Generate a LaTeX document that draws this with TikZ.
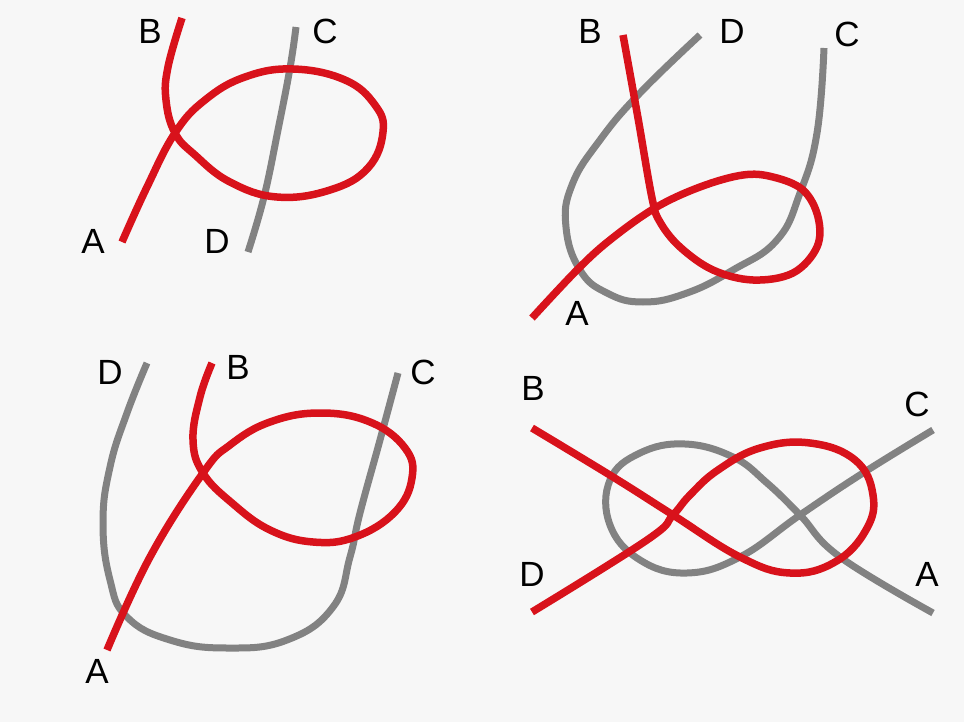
\documentclass[tikz,border=0pt]{standalone}
\usepackage{fontspec}
\setmainfont{Liberation Sans}
\definecolor{ropered}{HTML}{D8121B}
\definecolor{ropegray}{HTML}{828282}
\definecolor{paper}{HTML}{F7F7F7}
\tikzset{
	redrope/.style={draw=ropered,line width=7.5pt,line cap=butt,line join=round},
	grayrope/.style={draw=ropegray,line width=7pt,line cap=butt,line join=round},
	endlabel/.style={font=\fontsize{35}{40}\selectfont,inner sep=0pt}
}
\begin{document}
\begin{tikzpicture}[x=1pt,y=-1pt]
	\fill[paper] (0,0) rectangle (964,722);
	\useasboundingbox (0,0) rectangle (964,722);
	% top left
	\draw[grayrope] plot[smooth,tension=0.7] coordinates {(296,27) (290,68) (278,130) (264,197) (248,252)};
	\draw[redrope] plot[smooth,tension=0.7] coordinates {(122,242) (147,187) (175,133) (205,100) (245,77) (293,69) (345,80) (375,105) (383,132) (368,168) (330,190) (277,197) (230,182) (195,155) (175,133) (166,100) (168,67) (182,18)};
	\node[endlabel] (tlB) at (150,31) {B};
	\node[endlabel] (tlC) at (325,31) {C};
	\node[endlabel] (tlA) at (93,241) {A};
	\node[endlabel] (tlD) at (217,241) {D};
	% top right
	\draw[grayrope] plot[smooth,tension=0.75] coordinates {(700,35) (640,93) (600,140) (572,185) (566,227) (580,270) (607,293) (643,302) (687,293) (733,270) (777,240) (800,193) (817,133) (824,48)};
	\draw[redrope] plot[smooth,tension=0.6] coordinates {(623,35) (638,118) (652,198) (660,222) (680,247) (713,270) (753,280) (793,273) (817,247) (818,217) (803,190) (773,177) (743,175) (700,187) (655,208) (610,240) (577,270) (532,318)};
	\node[endlabel] (trB) at (590,31) {B};
	\node[endlabel] (trD) at (732,31) {D};
	\node[endlabel] (trC) at (847,34) {C};
	\node[endlabel] (trA) at (577,313) {A};
	% bottom left
	\draw[grayrope] plot[smooth,tension=0.75] coordinates {(147,363) (127,413) (110,467) (103,523) (110,580) (127,617) (170,640) (227,648) (287,640) (333,607) (350,557) (360,513) (380,440) (398,373)};
	\draw[redrope] plot[smooth,tension=0.7] coordinates {(107,650) (150,557) (203,473) (230,445) (270,422) (320,413) (370,422) (405,448) (412,478) (395,512) (355,537) (313,542) (270,530) (232,503) (203,473) (193,440) (200,397) (212,363)};
	\node[endlabel] (blD) at (110,372) {D};
	\node[endlabel] (blB) at (238,367) {B};
	\node[endlabel] (blC) at (423,372) {C};
	\node[endlabel] (blA) at (97,671) {A};
	% bottom right
	\draw[grayrope] plot[smooth,tension=0.7] coordinates {(933,430) (863,473) (800,515) (740,557) (687,573) (640,560) (610,525) (610,480) (640,453) (685,444) (733,457) (767,483) (800,515) (840,557) (933,613)};
	\draw[redrope] plot[smooth,tension=0.7] coordinates {(532,428) (613,477) (673,515) (740,557) (790,573) (835,562) (866,530) (873,495) (855,460) (810,443) (760,448) (718,470) (690,495) (673,515) (647,540) (532,612)};
	\node[endlabel] (brB) at (533,388) {B};
	\node[endlabel] (brC) at (917,404) {C};
	\node[endlabel] (brD) at (532,574) {D};
	\node[endlabel] (brA) at (927,574) {A};
\end{tikzpicture}
\end{document}
